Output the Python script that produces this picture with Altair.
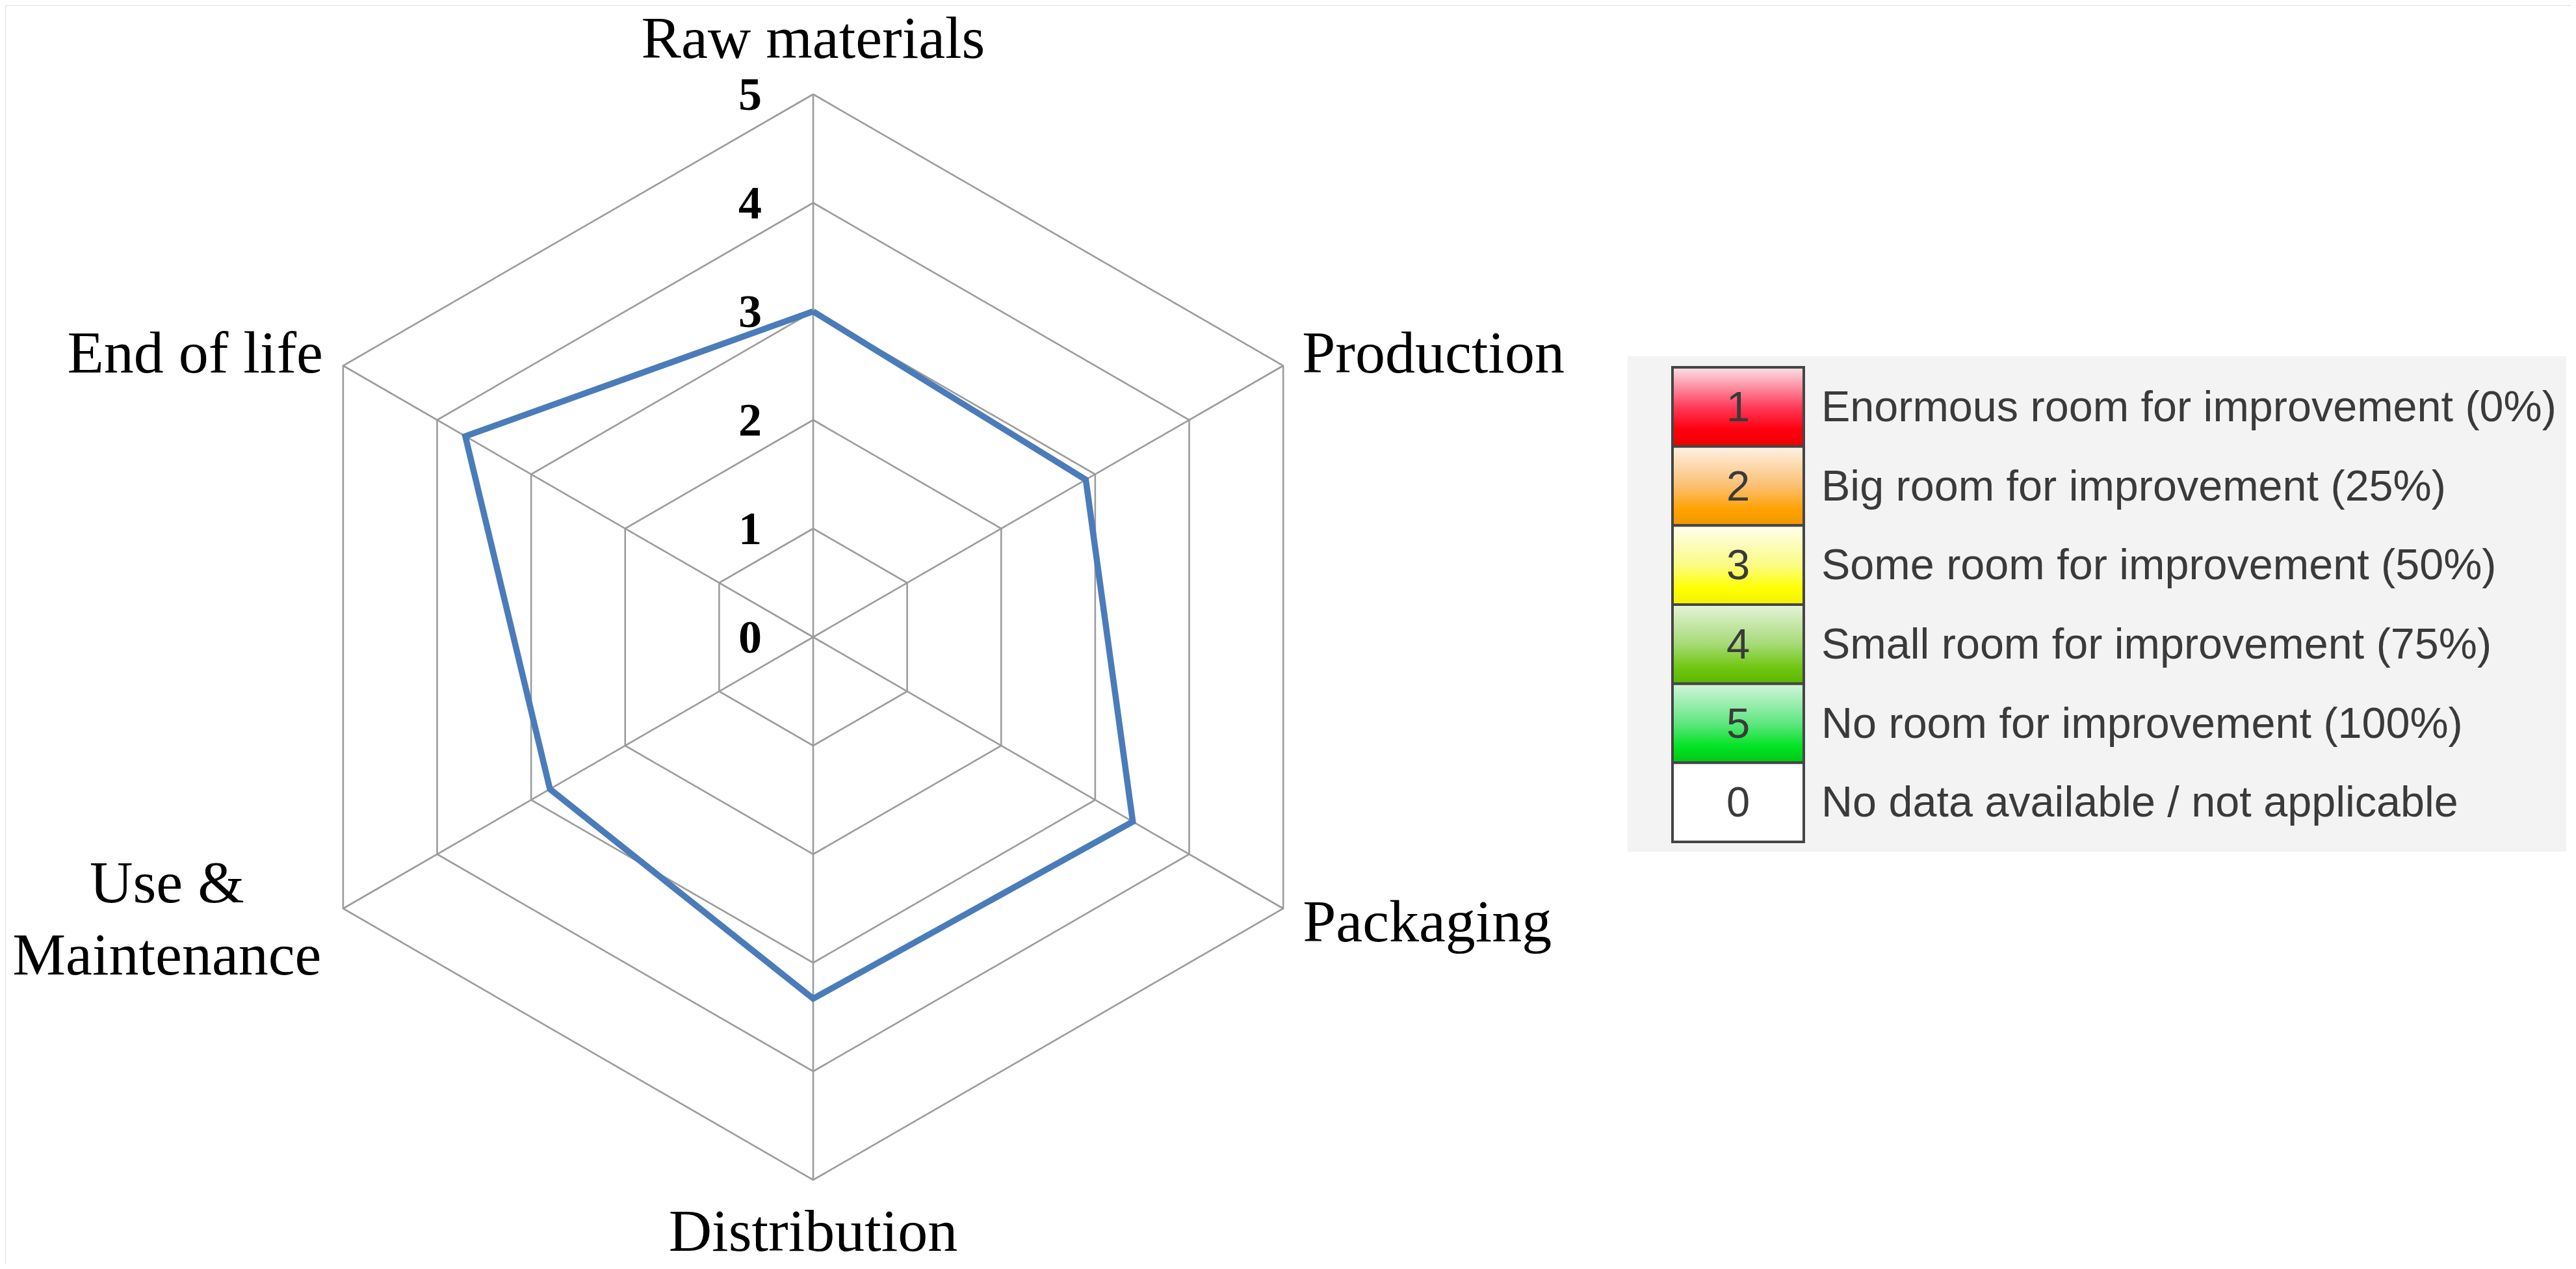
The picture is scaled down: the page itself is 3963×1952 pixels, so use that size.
import altair as alt
import pandas as pd

# ---------------- data ----------------
CATEGORIES = ["Raw materials", "Production", "Packaging", "Distribution",
              "Use & Maintenance", "End of life"]
CATEGORY_LABELS = ["Raw materials", "Production", "Packaging", "Distribution",
                   "Use &\nMaintenance", "End of life"]
SCORES = [3.0, 2.9, 3.4, 3.33, 2.8, 3.7]
TICKS = [0, 1, 2, 3, 4, 5]
RINGS = [1, 2, 3, 4, 5]
LEGEND_CODES = ["1", "2", "3", "4", "5", "0"]
LEGEND_TEXT = [
    "Enormous room for improvement (0%)",
    "Big room for improvement (25%)",
    "Some room for improvement (50%)",
    "Small room for improvement (75%)",
    "No room for improvement (100%)",
    "No data available / not applicable",
]
LEGEND_GRADIENTS = {
    "1": [("#fbe2e8", 0.0), ("#ff3c5c", 0.5), ("#ff0010", 0.78), ("#f00000", 1.0)],
    "2": [("#fdf2e6", 0.0), ("#fcbf72", 0.5), ("#ffa200", 0.8), ("#f09600", 1.0)],
    "3": [("#fefef0", 0.0), ("#fbfb84", 0.5), ("#ffff00", 0.8), ("#f0f000", 1.0)],
    "4": [("#e6f3da", 0.0), ("#a6da76", 0.5), ("#70c610", 0.8), ("#5cb600", 1.0)],
    "5": [("#d4f5dc", 0.0), ("#60e682", 0.5), ("#00e322", 0.8), ("#00c618", 1.0)],
}

# ---------------- layout ----------------
W, H = 3947, 1936
CX, CY = 1243, 972      # radar centre in chart pixels
UNIT = 167              # pixels per score unit
N = len(CATEGORIES)

# legend geometry (chart pixels)
LEG_TOP, LEG_ROW = 557, 121.67

xscale = alt.Scale(domain=[-CX / UNIT, (W - CX) / UNIT], nice=False, zero=False)
yscale = alt.Scale(domain=[-(H - CY) / UNIT, CY / UNIT], nice=False, zero=False)

ANGLE = "PI/2 - datum.idx*2*PI/%d" % N

# grid rings (closed hexagons)
grid_rows = []
for lv in RINGS:
    for i in range(N + 1):
        grid_rows.append({"level": lv, "idx": i % N, "ord": i})
grid_df = pd.DataFrame(grid_rows)

GRID_COLOR = "#9c9c9c"

grid = (
    alt.Chart(grid_df)
    .transform_calculate(ang=ANGLE)
    .transform_calculate(gx="datum.level*cos(datum.ang)", gy="datum.level*sin(datum.ang)")
    .mark_line(color=GRID_COLOR, strokeWidth=2.6)
    .encode(
        x=alt.X("gx:Q", scale=xscale, axis=None),
        y=alt.Y("gy:Q", scale=yscale, axis=None),
        detail="level:N",
        order="ord:Q",
    )
)

cat_df = pd.DataFrame({"idx": list(range(N)), "cat": CATEGORIES,
                       "label": CATEGORY_LABELS, "score": SCORES})

# spokes
spokes = (
    alt.Chart(cat_df)
    .transform_calculate(ang=ANGLE)
    .transform_calculate(sx="%d*cos(datum.ang)" % max(RINGS),
                         sy="%d*sin(datum.ang)" % max(RINGS),
                         ox="0", oy="0")
    .mark_rule(color=GRID_COLOR, strokeWidth=2.6)
    .encode(
        x=alt.X("ox:Q", scale=xscale, axis=None),
        y=alt.Y("oy:Q", scale=yscale, axis=None),
        x2="sx:Q",
        y2="sy:Q",
    )
)

# tick labels
tick_df = pd.DataFrame({"t": TICKS})
ticks = (
    alt.Chart(tick_df)
    .transform_calculate(ox="0")
    .mark_text(font="Liberation Serif", fontWeight="bold", fontSize=72,
               align="right", baseline="middle", dx=-79, dy=2, color="#000000")
    .encode(
        x=alt.X("ox:Q", scale=xscale, axis=None),
        y=alt.Y("t:Q", scale=yscale, axis=None),
        text="t:N",
    )
)

# data polygon
poly_rows = []
for i in range(N + 1):
    poly_rows.append({"idx": i % N, "ord": i, "score": SCORES[i % N]})
poly_df = pd.DataFrame(poly_rows)
poly = (
    alt.Chart(poly_df)
    .transform_calculate(ang=ANGLE)
    .transform_calculate(px="datum.score*cos(datum.ang)", py="datum.score*sin(datum.ang)")
    .mark_line(color="#4a7cba", strokeWidth=9.5, strokeJoin="miter")
    .encode(
        x=alt.X("px:Q", scale=xscale, axis=None),
        y=alt.Y("py:Q", scale=yscale, axis=None),
        order="ord:Q",
    )
)

# category labels
LABEL_STYLE = {
    "Raw materials": dict(align="center", dx=0, dy=-56),
    "Production": dict(align="left", dx=29, dy=10),
    "Packaging": dict(align="left", dx=30, dy=50),
    "Distribution": dict(align="center", dx=0, dy=109),
    "Use & Maintenance": dict(align="center", dx=-271, dy=-10),
    "End of life": dict(align="right", dx=-31, dy=10),
}
label_layers = []
for cat in CATEGORIES:
    st = LABEL_STYLE[cat]
    label_layers.append(
        alt.Chart(cat_df)
        .transform_filter(alt.datum.cat == cat)
        .transform_calculate(ang=ANGLE)
        .transform_calculate(lx="%d*cos(datum.ang)" % max(RINGS),
                             ly="%d*sin(datum.ang)" % max(RINGS))
        .mark_text(font="Liberation Serif", fontSize=92, color="#000000",
                   baseline="alphabetic", lineBreak="\n", lineHeight=111, **st)
        .encode(
            x=alt.X("lx:Q", scale=xscale, axis=None),
            y=alt.Y("ly:Q", scale=yscale, axis=None),
            text="label:N",
        )
    )

# ---------------- legend ----------------
legend_df = pd.DataFrame({"code": LEGEND_CODES, "desc": LEGEND_TEXT,
                          "rank": list(range(len(LEGEND_CODES)))})


def leg_calc(chart):
    return chart.transform_calculate(
        yt="(%f - (%f + datum.rank*%f))/%f" % (CY, LEG_TOP, LEG_ROW, UNIT),
        yb="(%f - (%f + (datum.rank+1)*%f))/%f" % (CY, LEG_TOP, LEG_ROW, UNIT),
        ym="(%f - (%f + (datum.rank+0.5)*%f))/%f" % (CY, LEG_TOP, LEG_ROW, UNIT),
    )


bg = (
    alt.Chart(pd.DataFrame({"k": [0]}))
    .mark_rect(color="#f3f3f3")
    .encode(x=alt.value(2496), x2=alt.value(3940), y=alt.value(540), y2=alt.value(1302))
)

swatches = []
for code in LEGEND_CODES:
    if code in LEGEND_GRADIENTS:
        fill = alt.LinearGradient(
            gradient="linear", x1=0, y1=0, x2=0, y2=1,
            stops=[alt.GradientStop(color=c, offset=o) for c, o in LEGEND_GRADIENTS[code]],
        )
    else:
        fill = "#ffffff"
    swatches.append(
        leg_calc(alt.Chart(legend_df).transform_filter(alt.datum.code == code))
        .mark_rect(fill=fill, stroke="#454545", strokeWidth=4)
        .encode(x=alt.value(2565), x2=alt.value(2767),
                y=alt.Y("yt:Q", scale=yscale, axis=None), y2="yb:Q")
    )

codes_txt = (
    leg_calc(alt.Chart(legend_df))
    .mark_text(font="Liberation Sans", fontSize=65, color="#3a3a3a",
               align="center", baseline="middle", dy=2)
    .encode(x=alt.value(2666), y=alt.Y("ym:Q", scale=yscale, axis=None), text="code:N")
)
desc_txt = (
    leg_calc(alt.Chart(legend_df))
    .mark_text(font="Liberation Sans", fontSize=66.5, color="#3a3a3a",
               align="left", baseline="middle", dy=2)
    .encode(x=alt.value(2794), y=alt.Y("ym:Q", scale=yscale, axis=None), text="desc:N")
)

chart = (
    alt.layer(bg, grid, spokes, ticks, poly, *label_layers, *swatches, codes_txt, desc_txt)
    .properties(width=W, height=H, autosize=alt.AutoSizeParams(type="none"), padding=0)
    .configure_view(stroke="transparent", strokeWidth=0)
    .configure(background="#ffffff")
)

chart.save("out.html", embed_options={"renderer": "svg", "actions": False})
